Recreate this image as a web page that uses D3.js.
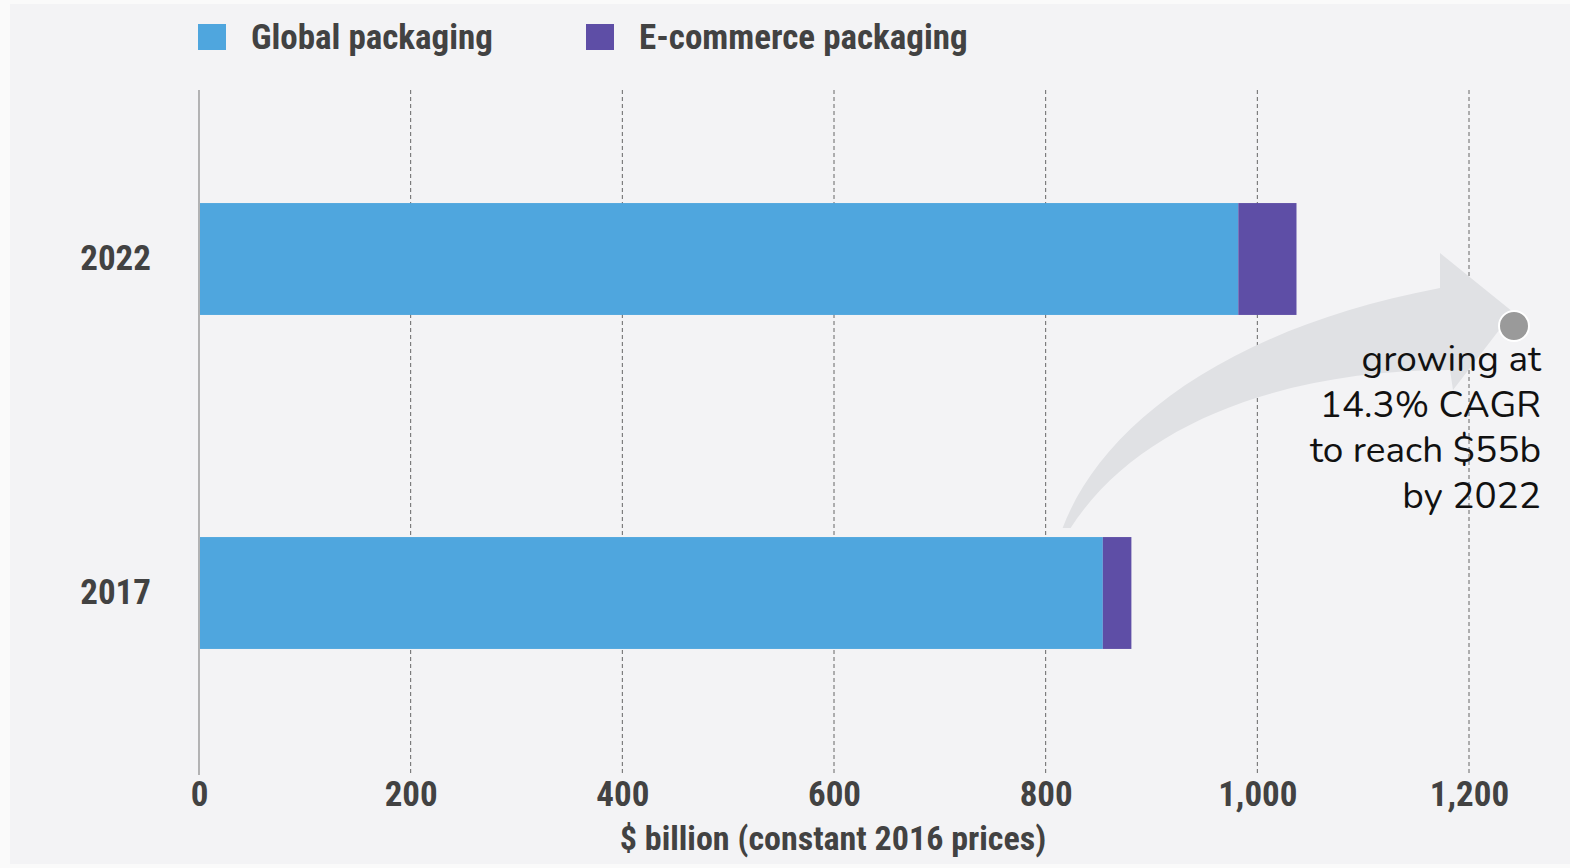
<!DOCTYPE html>
<html>
<head>
<meta charset="utf-8">
<script src="https://cdn.jsdelivr.net/npm/d3@7"></script>
<style>
  html, body { margin: 0; padding: 0; background: #fafafa; }
  svg { display: block; }
  .narrow { font-family: "Liberation Sans Narrow", "Roboto Condensed", "Arial Narrow", sans-serif; font-weight: bold; }
</style>
</head>
<body>
<div id="chart"></div>
<script>
const years = ["2022", "2017"];
const globalPackaging = [982, 854];
const ecommercePackaging = [55, 27];
const seriesNames = ["Global packaging", "E-commerce packaging"];
const xTicks = [0, 200, 400, 600, 800, 1000, 1200];
const axisTitle = "$ billion (constant 2016 prices)";
const noteLines = ["growing at", "14.3% CAGR", "to reach $55b", "by 2022"];

const W = 1570, H = 868;
const colors = ["#4fa6de", "#5e4ea6"];
const textColor = "#424242";

const svg = d3.select("#chart").append("svg")
    .attr("width", W)
    .attr("height", H)
    .attr("viewBox", [0, 0, W, H]);

svg.append("rect")
    .attr("x", 10).attr("y", 4)
    .attr("width", W - 10).attr("height", H - 8)
    .attr("fill", "#f3f3f5");

const x = d3.scaleLinear().domain([0, 1200]).range([199, 1469]);
const y = d3.scaleBand().domain(years).range([92, 760])
    .paddingInner(0.665).paddingOuter(0.3325);

const gridTop = 90, gridBottom = 775;

// gridlines
svg.append("g")
    .selectAll("line")
    .data(xTicks.filter(d => d > 0))
    .join("line")
    .attr("x1", d => x(d)).attr("x2", d => x(d))
    .attr("y1", gridTop).attr("y2", gridBottom)
    .attr("stroke", "#666")
    .attr("stroke-width", 1)
    .attr("stroke-dasharray", "4,3");

svg.append("line")
    .attr("x1", x(0)).attr("x2", x(0))
    .attr("y1", gridTop).attr("y2", gridBottom)
    .attr("stroke", "#888")
    .attr("stroke-width", 1.2);

// annotation arrow: from top of the 2017 bar to the note
const sx = x(816), sy = y("2017") - 9;
const tx = x(1200) + 44, ty = y("2022") + 109;
const arrow = d3.path();
arrow.moveTo(sx, sy);
arrow.bezierCurveTo(sx + 37, sy - 98, sx + 157, sy - 198, tx - 73, ty - 24);
arrow.lineTo(tx - 73, ty - 59);
arrow.lineTo(tx, ty);
arrow.lineTo(tx - 60, ty + 78);
arrow.lineTo(tx - 63, ty + 58);
arrow.bezierCurveTo(tx - 223, ty + 58, tx - 373, ty + 108, sx + 8, sy);
arrow.closePath();
svg.append("path")
    .attr("d", arrow.toString())
    .attr("fill", "#e0e1e4");

// stacked bars
const rows = years.map((yr, i) => ({year: yr, g: globalPackaging[i], e: ecommercePackaging[i]}));
const bars = svg.append("g");
bars.selectAll("rect.g")
    .data(rows)
    .join("rect")
    .attr("class", "g")
    .attr("x", x(0) + 1)
    .attr("y", d => y(d.year))
    .attr("width", d => x(d.g) - x(0) - 1)
    .attr("height", y.bandwidth())
    .attr("fill", colors[0]);
bars.selectAll("rect.e")
    .data(rows)
    .join("rect")
    .attr("class", "e")
    .attr("x", d => x(d.g))
    .attr("y", d => y(d.year))
    .attr("width", d => x(d.g + d.e) - x(d.g))
    .attr("height", y.bandwidth())
    .attr("fill", colors[1]);

// x axis
const xAxis = svg.append("g")
    .attr("transform", `translate(0,${gridBottom})`)
    .call(d3.axisBottom(x).tickValues(xTicks).tickSize(0).tickPadding(6)
        .tickFormat(d3.format(",")))
    .call(g => g.select(".domain").remove());
xAxis.selectAll("text")
    .attr("class", "narrow")
    .attr("font-size", 35)
    .attr("fill", textColor);

svg.append("text")
    .attr("class", "narrow")
    .attr("x", 833)
    .attr("y", 850)
    .attr("text-anchor", "middle")
    .attr("font-size", 34)
    .attr("fill", textColor)
    .text(axisTitle);

// y axis labels
const yAxis = svg.append("g")
    .attr("transform", `translate(${x(0)},0)`)
    .call(d3.axisLeft(y).tickSize(0).tickPadding(48))
    .call(g => g.select(".domain").remove());
yAxis.selectAll("text")
    .attr("class", "narrow")
    .attr("font-size", 35)
    .attr("fill", textColor);

// legend
const legendX = [198, 586];
const legend = svg.append("g")
    .selectAll("g")
    .data(seriesNames)
    .join("g")
    .attr("transform", (d, i) => `translate(${legendX[i]},24)`);
legend.append("rect")
    .attr("width", 28).attr("height", 26)
    .attr("fill", (d, i) => colors[i]);
legend.append("text")
    .attr("class", "narrow")
    .attr("x", 53).attr("y", 25)
    .attr("font-size", 35)
    .attr("fill", textColor)
    .text(d => d);

svg.append("circle")
    .attr("cx", 1514).attr("cy", 326)
    .attr("r", 15)
    .attr("fill", "#9a9a9a")
    .attr("stroke", "#ffffff")
    .attr("stroke-width", 2);

svg.append("text")
    .attr("font-family", "Nunito, Lato, 'Open Sans', sans-serif")
    .attr("font-size", 37)
    .attr("fill", "#111")
    .attr("text-anchor", "end")
    .selectAll("tspan")
    .data(noteLines)
    .join("tspan")
    .attr("x", 1541)
    .attr("y", (d, i) => 371 + i * 45.5)
    .text(d => d);
</script>
</body>
</html>
